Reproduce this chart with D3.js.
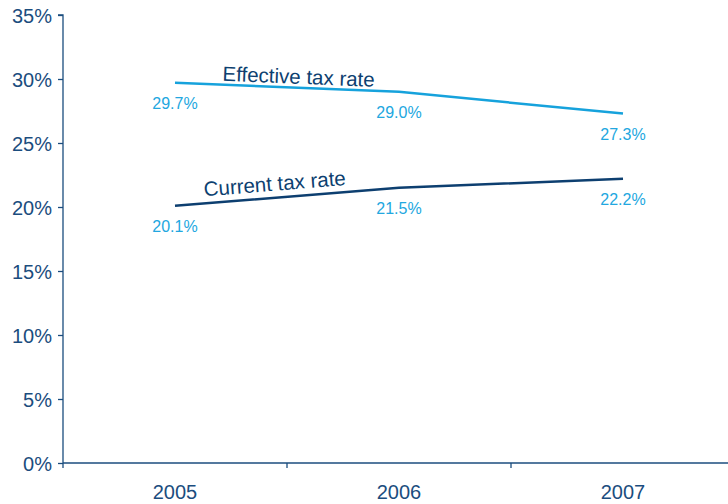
<!doctype html>
<html>
<head>
<meta charset="utf-8">
<style>
  body { margin: 0; background: #fff; }
  svg { display: block; font-family: "Liberation Sans", Arial, sans-serif; }
</style>
</head>
<body>
<div id="chart"></div>
<script src="https://d3js.org/d3.v7.min.js"></script>
<script>
// data
var years = ["2005", "2006", "2007"];
var effective = [29.7, 29.0, 27.3];
var current = [20.1, 21.5, 22.2];
var yTicks = [0, 5, 10, 15, 20, 25, 30, 35];

var w = 728, h = 504;
var mLeft = 63, mTop = 15, mBottom = 463;
var navy = "#0d3f70", textBlue = "#1b4d7e", light = "#16a2dc", labelBlue = "#22a7e0";

var svg = d3.select("#chart").append("svg")
  .attr("width", w)
  .attr("height", h);

var x = d3.scaleBand().domain(years).range([mLeft, mLeft + 224 * 3]);
var y = d3.scaleLinear().domain([0, 35]).range([mBottom, mTop]);

// y axis
var yAxis = svg.append("g")
  .attr("transform", "translate(" + mLeft + ",0)")
  .call(d3.axisLeft(y).tickValues(yTicks).tickSize(5).tickPadding(6)
    .tickFormat(function(d) { return d + "%"; }));
yAxis.selectAll("line, path").attr("stroke", textBlue).attr("stroke-width", 1.3);
yAxis.select(".domain").attr("d", "M-5," + y(35) + "H0V" + y(0));
yAxis.selectAll("text").attr("fill", textBlue).style("font-size", "20px")
  .attr("dy", "0.36em");

// x axis: line plus ticks at band edges
svg.append("line")
  .attr("x1", mLeft).attr("x2", w)
  .attr("y1", mBottom).attr("y2", mBottom)
  .attr("stroke", textBlue).attr("stroke-width", 1.3);
svg.selectAll(".xtick")
  .data(years)
  .enter()
  .append("line")
  .attr("class", "xtick")
  .attr("x1", function(d) { return x(d); })
  .attr("x2", function(d) { return x(d); })
  .attr("y1", mBottom).attr("y2", mBottom + 5)
  .attr("stroke", textBlue).attr("stroke-width", 1.3);
svg.selectAll(".xlab")
  .data(years)
  .enter()
  .append("text")
  .attr("class", "xlab")
  .attr("x", function(d) { return x(d) + x.bandwidth() / 2; })
  .attr("y", 499)
  .attr("text-anchor", "middle")
  .attr("fill", textBlue)
  .style("font-size", "20px")
  .text(function(d) { return d; });

var cx = function(i) { return x(years[i]) + x.bandwidth() / 2; };
var line = d3.line()
  .x(function(d, i) { return cx(i); })
  .y(function(d) { return y(d); });

function drawSeries(vals, color, name, frac, lift) {
  svg.append("path")
    .datum(vals)
    .attr("d", line)
    .attr("fill", "none")
    .attr("stroke", color)
    .attr("stroke-width", 2.5);

  svg.selectAll(null)
    .data(vals)
    .enter()
    .append("text")
    .attr("x", function(d, i) { return cx(i); })
    .attr("y", function(d) { return y(d) + 26; })
    .attr("text-anchor", "middle")
    .attr("fill", labelBlue)
    .style("font-size", "16px")
    .text(function(d) { return d.toFixed(1) + "%"; });

  // series name along the first segment
  var x0 = cx(0), x1 = cx(1), y0 = y(vals[0]), y1 = y(vals[1]);
  var px = x0 + (x1 - x0) * frac, py = y0 + (y1 - y0) * frac;
  var ang = Math.atan2(y1 - y0, x1 - x0) * 180 / Math.PI;
  svg.append("text")
    .attr("transform", "translate(" + px + "," + py + ") rotate(" + ang + ")")
    .attr("y", -lift)
    .attr("text-anchor", "middle")
    .attr("fill", navy)
    .style("font-size", "20.5px")
    .text(name);
}

drawSeries(effective, light, "Effective tax rate", 0.55, 4);
drawSeries(current, navy, "Current tax rate", 0.45, 7);
</script>
</body>
</html>
